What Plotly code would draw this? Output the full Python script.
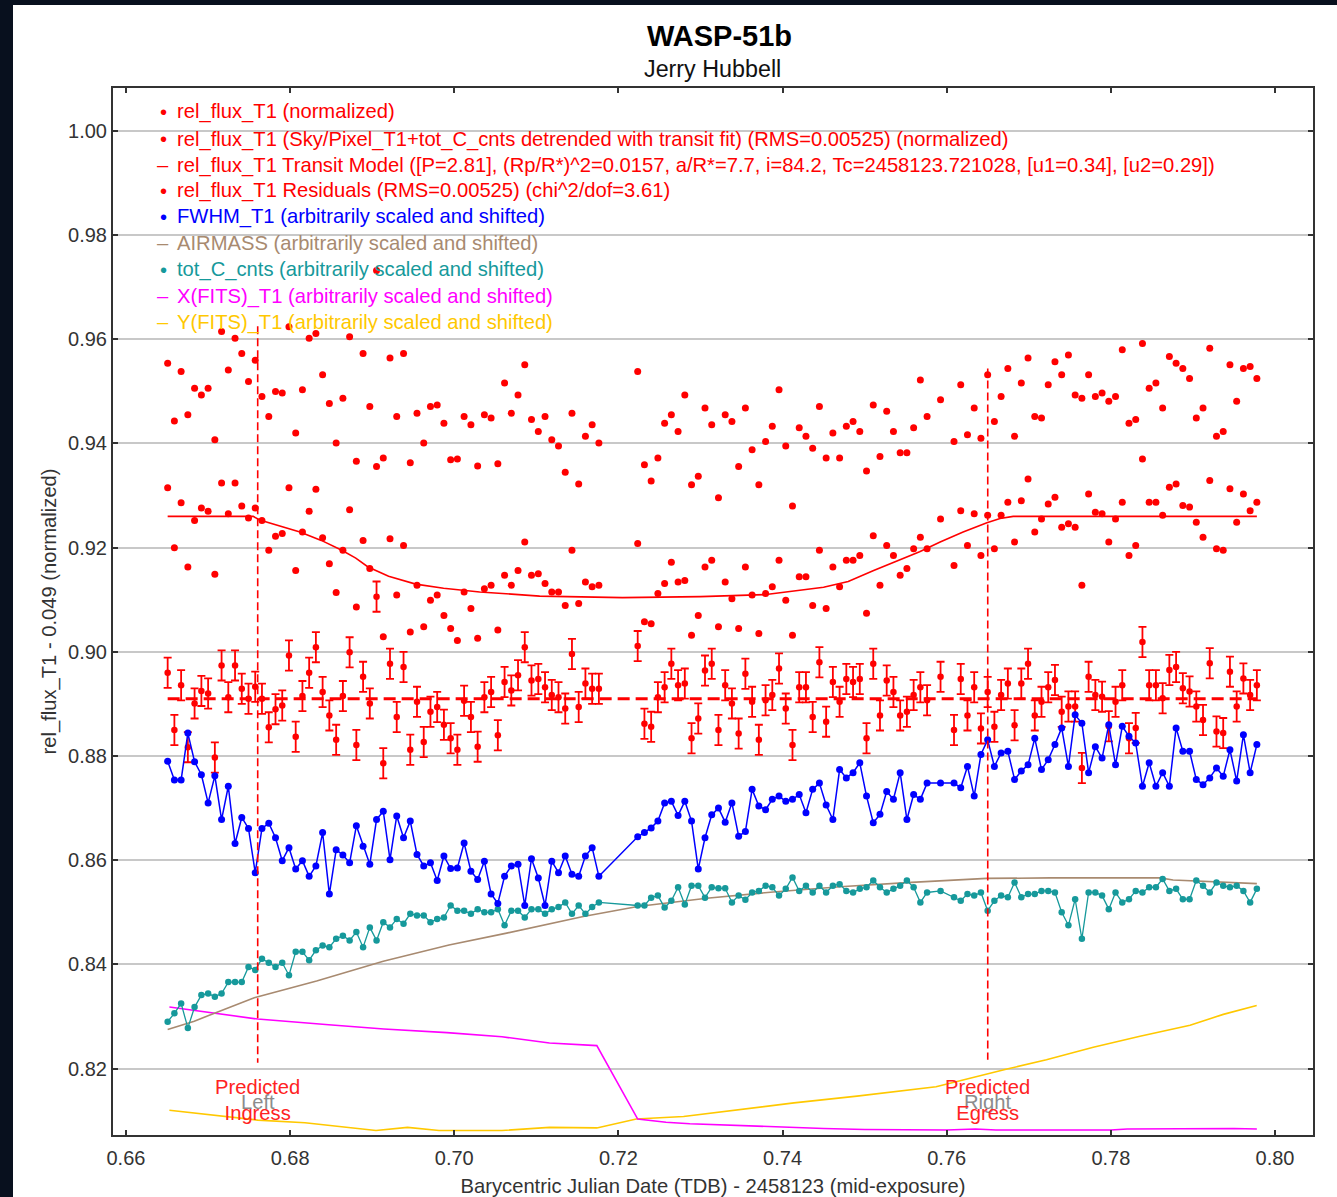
import plotly.graph_objects as go

# ------------------------------------------------------------------
# Data
# ------------------------------------------------------------------
time_seg1 = [0.66508,0.66590,0.66672,0.66754,0.66836,0.66919,0.67001,0.67083,0.67165,0.67247,
             0.67329,0.67411,0.67493,0.67575,0.67657,0.67740,0.67822,0.67904,0.67986,0.68068,
             0.68150,0.68232,0.68314,0.68396,0.68478,0.68561,0.68643,0.68725,0.68807,0.68889,
             0.68971,0.69053,0.69135,0.69217,0.69299,0.69382,0.69464,0.69546,0.69628,0.69710,
             0.69792,0.69874,0.69956,0.70038,0.70120,0.70203,0.70285,0.70367,0.70449,0.70531,
             0.70613,0.70695,0.70777,0.70859,0.70941,0.71024,0.71106,0.71188,0.71270,0.71352,
             0.71434,0.71516,0.71598,0.71680,0.71762]
time_seg2 = [0.72235,0.72317,0.72399,0.72481,0.72563,0.72645,0.72727,0.72809,0.72891,0.72973,
             0.73055,0.73137,0.73219,0.73301,0.73383,0.73465,0.73547,
             0.73629,0.73711,0.73793,0.73875,0.73957,0.74039,0.74121,0.74203,0.74285,0.74367,
             0.74449,0.74531,0.74613,0.74695,0.74777,0.74859,0.74941,0.75023,0.75105,0.75187,
             0.75269,0.75351,0.75433,0.75515,0.75597,0.75679,0.75761,
             0.75925,
             0.76089,0.76171,0.76253,0.76335,0.76417,0.76499,0.76581,0.76663,0.76745,0.76827,
             0.76909,0.76991,0.77073,0.77155,0.77237,
             0.77319,0.77401,0.77483,0.77565,0.77647,0.77729,0.77811,0.77893,0.77975,0.78057,
             0.78139,0.78221,0.78303,0.78385,0.78467,0.78549,0.78631,0.78713,0.78795,0.78877,
             0.78959,0.79041,0.79123,0.79205,0.79287,0.79369,0.79451,0.79533,0.79615,0.79697,
             0.79779]

raw_flux_seg1 = [0.9554,0.9443,0.9538,0.9455,0.9506,0.9493,0.9506,0.9407,0.9615,0.9541,
                 0.9602,0.9573,0.9519,0.9560,0.9490,0.9452,0.9500,0.9497,0.9624,0.9420,
                 0.9503,0.9602,0.9611,0.9532,0.9477,0.9401,0.9487,0.9605,0.9366,0.9573,
                 0.9471,0.9732,0.9372,0.9564,0.9452,0.9573,0.9363,0.9458,0.9401,0.9471,
                 0.9474,0.9439,0.9369,
                 0.9370,0.9452,0.9436,0.9357,0.9455,0.9449,0.9361,0.9516,0.9458,0.9493,
                 0.9551,0.9446,0.9423,0.9452,0.9407,0.9395,0.9345,0.9458,0.9322,0.9414,
                 0.9436,0.9401]
raw_flux_seg2 = [0.9538,0.9359,0.9328,0.9372,0.9439,0.9455,0.9423,0.9493,0.9321,0.9337,
                 0.9468,0.9436,0.9296,0.9455,0.9442,0.9356,0.9468,
                 0.9388,0.9321,0.9404,0.9433,0.9503,0.9395,0.9280,0.9430,0.9414,0.9391,
                 0.9471,0.9372,0.9420,0.9372,0.9433,0.9442,0.9423,0.9347,0.9474,0.9375,
                 0.9462,0.9423,0.9382,0.9382,0.9430,0.9522,0.9452,
                 0.9484,
                 0.9404,0.9513,0.9417,0.9468,0.9410,0.9532,0.9442,0.9490,0.9544,0.9414,
                 0.9516,0.9564,0.9452,0.9449,0.9513,
                 0.9557,0.9532,0.9570,0.9493,0.9487,0.9532,0.9490,0.9497,0.9481,0.9490,
                 0.9580,0.9439,0.9446,0.9592,0.9506,0.9516,0.9468,0.9567,0.9554,0.9544,
                 0.9525,0.9449,0.9468,0.9583,0.9414,0.9423,0.9551,0.9481,0.9544,0.9548,
                 0.9525]

detrended_seg1 = [0.9315,0.9200,0.9286,0.9163,0.9252,0.9276,0.9270,0.9149,0.9324,0.9265,
                  0.9324,0.9280,0.9257,0.9276,0.9252,0.9195,0.9222,0.9227,0.9315,0.9156,
                  0.9230,0.9270,0.9312,0.9219,0.9169,0.9114,0.9195,0.9273,0.9086,0.9214,
                  0.9160,0.9356,0.9029,0.9217,0.9109,0.9204,0.9038,0.9128,0.9048,0.9099,
                  0.9109,0.9070,0.9045,
                  0.9022,0.9115,0.9083,0.9026,0.9121,0.9128,0.9042,0.9147,0.9128,0.9156,
                  0.9211,0.9147,0.9150,0.9131,0.9115,0.9115,0.9089,0.9195,0.9093,0.9134,
                  0.9125,0.9128]
detrended_seg2 = [0.9208,0.9058,0.9054,0.9112,0.9131,0.9172,0.9134,0.9137,0.9032,0.9070,
                  0.9163,0.9176,0.9048,0.9134,0.9102,0.9045,0.9163,
                  0.9109,0.9035,0.9112,0.9125,0.9176,0.9099,0.9032,0.9144,0.9144,0.9089,
                  0.9195,0.9083,0.9163,0.9125,0.9176,0.9176,0.9185,0.9074,0.9223,0.9128,
                  0.9204,0.9185,0.9147,0.9160,0.9198,0.9220,0.9198,
                  0.9255,
                  0.9166,0.9271,0.9204,0.9265,0.9185,0.9262,0.9198,0.9262,0.9287,0.9211,
                  0.9290,0.9332,0.9230,0.9255,0.9284,
                  0.9297,0.9239,0.9246,0.9239,0.9128,0.9303,0.9268,0.9265,0.9211,0.9255,
                  0.9287,0.9185,0.9204,0.9370,0.9287,0.9287,0.9262,0.9316,0.9322,0.9281,
                  0.9278,0.9249,0.9220,0.9329,0.9198,0.9195,0.9313,0.9249,0.9303,0.9271,
                  0.9287]

residual_seg1 = [0.8960,0.8850,0.8936,0.8817,0.8901,0.8925,0.8920,0.8797,0.8974,0.8913,
                 0.8974,0.8929,0.8910,0.8933,0.8910,0.8855,0.8890,0.8897,0.8993,0.8837,
                 0.8915,0.8960,0.9009,0.8923,0.8878,0.8831,0.8915,0.8999,0.8821,0.8952,
                 0.8901,0.9106,0.8786,0.8977,0.8875,0.8971,0.8812,0.8904,0.8827,0.8885,
                 0.8894,0.8860,0.8834,
                 0.8812,0.8906,0.8875,0.8818,0.8913,0.8923,0.8840,0.8942,0.8926,0.8955,
                 0.9009,0.8945,0.8948,0.8932,0.8917,0.8913,0.8891,0.8996,0.8894,0.8939,
                 0.8929,0.8929]
residual_seg2 = [0.9011,0.8862,0.8856,0.8913,0.8932,0.8977,0.8936,0.8939,0.8834,0.8872,
                 0.8964,0.8977,0.8850,0.8936,0.8901,0.8843,0.8958,
                 0.8904,0.8831,0.8907,0.8917,0.8968,0.8891,0.8821,0.8932,0.8932,0.8875,
                 0.8980,0.8866,0.8942,0.8904,0.8948,0.8942,0.8948,0.8834,0.8977,0.8878,
                 0.8945,0.8923,0.8878,0.8885,0.8917,0.8932,0.8907,
                 0.8952,
                 0.8850,0.8948,0.8878,0.8932,0.8853,0.8923,0.8856,0.8917,0.8939,0.8859,
                 0.8939,0.8977,0.8878,0.8904,0.8932,
                 0.8946,0.8885,0.8895,0.8895,0.8777,0.8952,0.8917,0.8914,0.8857,0.8904,
                 0.8936,0.8834,0.8854,0.9019,0.8936,0.8936,0.8911,0.8965,0.8971,0.8930,
                 0.8924,0.8895,0.8869,0.8978,0.8847,0.8844,0.8962,0.8895,0.8949,0.8917,
                 0.8936]
residual_err = 0.0029
residual_baseline = 0.891

fwhm_seg1 = [0.8790,0.8754,0.8754,0.8844,0.8789,0.8764,0.8710,0.8762,0.8678,0.8742,
             0.8632,0.8682,0.8661,0.8576,0.8661,0.8671,0.8643,0.8599,0.8624,0.8583,
             0.8599,0.8569,0.8589,0.8653,0.8535,0.8620,0.8610,0.8595,0.8666,0.8627,
             0.8592,0.8678,0.8694,0.8601,0.8685,0.8643,0.8675,0.8611,0.8589,0.8595,
             0.8561,0.8608,0.8584,
             0.8585,0.8633,0.8579,0.8563,0.8598,0.8535,0.8517,0.8569,0.8589,0.8592,
             0.8513,0.8603,0.8566,0.8513,0.8598,0.8576,0.8608,0.8573,0.8569,0.8608,
             0.8624,0.8569]
fwhm_seg2 = [0.8645,0.8653,0.8662,0.8675,0.8710,0.8713,0.8686,0.8713,0.8675,0.8583,
             0.8643,0.8687,0.8700,0.8673,0.8710,0.8646,0.8655,
             0.8736,0.8704,0.8697,0.8717,0.8723,0.8713,0.8717,0.8726,0.8691,0.8736,
             0.8748,0.8706,0.8678,0.8774,0.8758,0.8768,0.8787,0.8723,0.8672,0.8688,
             0.8732,0.8717,0.8768,0.8678,0.8726,0.8717,0.8748,
             0.8748,
             0.8748,0.8739,0.8780,0.8723,0.8803,0.8831,0.8780,0.8806,0.8809,0.8755,
             0.8771,0.8783,0.8834,0.8774,0.8793,
             0.8822,0.8854,0.8780,0.8879,0.8863,0.8768,0.8818,0.8796,0.8860,0.8783,
             0.8857,0.8838,0.8825,0.8742,0.8787,0.8742,0.8768,0.8742,0.8854,0.8809,
             0.8809,0.8755,0.8745,0.8758,0.8777,0.8761,0.8812,0.8752,0.8841,0.8768,
             0.8822]

totc_seg1 = [0.8290,0.8306,0.8325,0.8278,0.8318,0.8341,0.8344,0.8338,0.8344,0.8366,
             0.8366,0.8366,0.8395,0.8389,0.8411,0.8403,0.8395,0.8403,0.8379,0.8424,
             0.8424,0.8408,0.8427,0.8436,0.8433,0.8449,0.8455,0.8446,0.8462,0.8433,
             0.8471,0.8446,0.8481,0.8471,0.8487,0.8478,0.8497,0.8494,0.8494,0.8481,
             0.8487,0.8490,0.8513,
             0.8503,0.8503,0.8497,0.8506,0.8500,0.8500,0.8506,0.8475,0.8503,0.8503,
             0.8490,0.8506,0.8506,0.8497,0.8506,0.8510,0.8519,0.8497,0.8513,0.8497,
             0.8510,0.8519]
totc_seg2 = [0.8513,0.8513,0.8528,0.8532,0.8509,0.8522,0.8548,0.8515,0.8551,0.8551,
             0.8528,0.8548,0.8546,0.8546,0.8519,0.8532,0.8524,
             0.8538,0.8541,0.8551,0.8548,0.8532,0.8545,0.8567,0.8541,0.8551,0.8538,
             0.8551,0.8538,0.8551,0.8554,0.8541,0.8538,0.8545,0.8548,0.8561,0.8548,
             0.8538,0.8545,0.8551,0.8561,0.8548,0.8519,0.8538,
             0.8541,
             0.8529,0.8522,0.8535,0.8532,0.8538,0.8503,0.8522,0.8532,0.8529,0.8557,
             0.8529,0.8535,0.8535,0.8541,0.8541,
             0.8538,0.8500,0.8475,0.8525,0.8449,0.8538,0.8538,0.8532,0.8506,0.8538,
             0.8519,0.8525,0.8541,0.8538,0.8548,0.8548,0.8564,0.8541,0.8545,0.8525,
             0.8525,0.8561,0.8551,0.8538,0.8557,0.8551,0.8548,0.8551,0.8541,0.8519,
             0.8545]

model_time = [0.66508,0.6755,0.6763,0.6790,0.6812,0.6838,0.6863,0.6880,0.6895,0.6920,
              0.6953,0.6987,0.7031,0.7104,0.7205,0.7300,0.7380,0.7450,0.7480,0.7511,
              0.7540,0.7567,0.7592,0.7620,0.7649,0.7665,0.7681,0.79779]
model_flux = [0.9260,0.9260,0.9253,0.9241,0.9230,0.9214,0.9195,0.9180,0.9163,0.9145,
              0.9130,0.9122,0.9115,0.9107,0.9104,0.9106,0.9110,0.9124,0.9135,0.9156,
              0.9175,0.9192,0.9211,0.9230,0.9248,0.9256,0.9260,0.9260]

airmass_time = [0.66508,0.66832,0.67563,0.68323,0.69135,0.69936,0.70639,0.71572,0.72235,
                0.73075,0.73887,0.74700,0.75512,0.76487,0.77259,0.78599,0.78758,0.79779]
airmass_val = [0.8275,0.8291,0.8336,0.8368,0.8406,0.8437,0.8460,0.8492,0.8511,
               0.8527,0.8539,0.8549,0.8557,0.8565,0.8566,0.8566,0.8562,0.8555]

xfits_time = [0.66529,0.67605,0.68470,0.69142,0.69911,0.70581,0.71160,0.71737,0.72235,
              0.72580,0.72870,0.73400,0.73900,0.74500,0.75000,0.76000,0.76350,0.76600,
              0.78000,0.78200,0.79500,0.79779]
xfits_val = [0.8318,0.8295,0.8284,0.8276,0.8269,0.8261,0.8249,0.8244,0.8103,
             0.8097,0.8094,0.8091,0.8087,0.8085,0.8083,0.8082,0.8084,0.8082,
             0.8082,0.8084,0.8085,0.8084]

yfits_time = [0.66529,0.67125,0.67605,0.68181,0.69046,0.69431,0.69814,0.70581,0.71160,
              0.71737,0.72218,0.72794,0.73372,0.74139,0.74907,0.75870,0.76735,0.77215,
              0.77786,0.78355,0.78965,0.79370,0.79777]
yfits_val = [0.8120,0.8110,0.8101,0.8096,0.8081,0.8087,0.8081,0.8081,0.8087,
             0.8086,0.8103,0.8108,0.8119,0.8134,0.8147,0.8165,0.8199,0.8217,
             0.8241,0.8262,0.8283,0.8304,0.8321]

predicted_times = [0.67605, 0.76500]
predicted_top = [0.9625, 0.9544]
predicted_bottom = [0.8211, 0.8217]
predicted_names = ["Ingress", "Egress"]
predicted_sides = ["Left", "Right"]

x_ticks = [0.66, 0.68, 0.70, 0.72, 0.74, 0.76, 0.78, 0.80]
y_ticks = [0.82, 0.84, 0.86, 0.88, 0.90, 0.92, 0.94, 0.96, 0.98, 1.00]
x_tick_labels = ["0.66", "0.68", "0.70", "0.72", "0.74", "0.76", "0.78", "0.80"]
y_tick_labels = ["0.82", "0.84", "0.86", "0.88", "0.90", "0.92", "0.94", "0.96", "0.98", "1.00"]

legend_labels = [
    "rel_flux_T1 (normalized)",
    "rel_flux_T1 (Sky/Pixel_T1+tot_C_cnts detrended with transit fit) (RMS=0.00525) (normalized)",
    "rel_flux_T1 Transit Model ([P=2.81], (Rp/R*)^2=0.0157, a/R*=7.7, i=84.2, Tc=2458123.721028, [u1=0.34], [u2=0.29])",
    "rel_flux_T1 Residuals (RMS=0.00525) (chi^2/dof=3.61)",
    "FWHM_T1 (arbitrarily scaled and shifted)",
    "AIRMASS (arbitrarily scaled and shifted)",
    "tot_C_cnts (arbitrarily scaled and shifted)",
    "X(FITS)_T1 (arbitrarily scaled and shifted)",
    "Y(FITS)_T1 (arbitrarily scaled and shifted)",
]
legend_symbols = ["\u2022", "\u2022", "\u2013", "\u2022", "\u2022", "\u2013", "\u2022", "\u2013", "\u2013"]

# ------------------------------------------------------------------
# Styling
# ------------------------------------------------------------------
RED = "#ff0000"
BLUE = "#0000ff"
TAN = "#a88a70"
TEAL = "#16999b"
MAGENTA = "#ff00ff"
GOLD = "#ffc800"
legend_colors = [RED, RED, RED, RED, BLUE, TAN, TEAL, MAGENTA, GOLD]

FONT = "Liberation Sans, Arial, sans-serif"
FS = 20.2
W, H = 1337, 1197
ML, MR, MT, MB = 113, 24, 88, 62
PW, PH = W - ML - MR, H - MT - MB


def px2paper_x(px):
    return (px - ML) / PW


def px2paper_y(py):
    return (H - MB - py) / PH


time = time_seg1 + time_seg2
raw_flux = raw_flux_seg1 + raw_flux_seg2
detrended = detrended_seg1 + detrended_seg2
residual = residual_seg1 + residual_seg2
fwhm = fwhm_seg1 + fwhm_seg2
totc = totc_seg1 + totc_seg2

fig = go.Figure()

fig.add_trace(go.Scatter(x=yfits_time, y=yfits_val, mode="lines",
                         line=dict(color=GOLD, width=1.6), name=legend_labels[8]))
fig.add_trace(go.Scatter(x=xfits_time, y=xfits_val, mode="lines",
                         line=dict(color=MAGENTA, width=1.6), name=legend_labels[7]))
fig.add_trace(go.Scatter(x=airmass_time, y=airmass_val, mode="lines",
                         line=dict(color=TAN, width=1.6), name=legend_labels[5]))
fig.add_trace(go.Scatter(x=time, y=totc, mode="lines+markers",
                         line=dict(color=TEAL, width=1.3),
                         marker=dict(color=TEAL, size=6.5), name=legend_labels[6]))
fig.add_trace(go.Scatter(x=[time[0], time[-1]], y=[residual_baseline, residual_baseline],
                         mode="lines", line=dict(color=RED, width=3, dash="12px,6px"),
                         name="residual baseline"))
fig.add_trace(go.Scatter(x=time, y=residual, mode="markers",
                         marker=dict(color=RED, size=6.5),
                         error_y=dict(type="constant", value=residual_err, color=RED,
                                      thickness=1.8, width=4),
                         name=legend_labels[3]))
fig.add_trace(go.Scatter(x=time, y=fwhm, mode="lines+markers",
                         line=dict(color=BLUE, width=1.5),
                         marker=dict(color=BLUE, size=7), name=legend_labels[4]))
fig.add_trace(go.Scatter(x=model_time, y=model_flux, mode="lines",
                         line=dict(color=RED, width=1.6), name=legend_labels[2]))
fig.add_trace(go.Scatter(x=time, y=detrended, mode="markers",
                         marker=dict(color=RED, size=7), name=legend_labels[1]))
fig.add_trace(go.Scatter(x=time, y=raw_flux, mode="markers",
                         marker=dict(color=RED, size=7), name=legend_labels[0]))

for t, top, bot in zip(predicted_times, predicted_top, predicted_bottom):
    fig.add_trace(go.Scatter(x=[t, t], y=[top, bot], mode="lines",
                             line=dict(color=RED, width=1.6, dash="8px,4px"),
                             name="predicted"))

annotations = []
# legend drawn as text rows inside the plot
legend_rows_px = [112, 139, 165, 191, 217, 243, 270, 296, 322]
for lab, sym, col, py in zip(legend_labels, legend_symbols, legend_colors, legend_rows_px):
    annotations.append(dict(xref="paper", yref="paper", x=px2paper_x(163), y=px2paper_y(py),
                            text=sym, showarrow=False, xanchor="center", yanchor="middle",
                            font=dict(family=FONT, size=FS, color=col)))
    annotations.append(dict(xref="paper", yref="paper", x=px2paper_x(175), y=px2paper_y(py),
                            text=lab, showarrow=False, xanchor="left", yanchor="middle",
                            font=dict(family=FONT, size=FS, color=col)))

# predicted ingress/egress labels
for t, name, side in zip(predicted_times, predicted_names, predicted_sides):
    annotations.append(dict(xref="x", yref="paper", x=t, y=px2paper_y(1102),
                            text=side, showarrow=False, xanchor="center", yanchor="middle",
                            font=dict(family=FONT, size=FS, color="#8c8c8c")))
    annotations.append(dict(xref="x", yref="paper", x=t, y=px2paper_y(1099.5),
                            text="Predicted<br>" + name, showarrow=False,
                            xanchor="center", yanchor="middle",
                            font=dict(family=FONT, size=FS, color="#ff2222")))

# title & subtitle
annotations.append(dict(xref="paper", yref="paper", x=px2paper_x(719), y=px2paper_y(36),
                        text="<b>WASP-51b</b>", showarrow=False, xanchor="center",
                        yanchor="middle", font=dict(family=FONT, size=29, color="#000000")))
annotations.append(dict(xref="paper", yref="paper", x=px2paper_x(712), y=px2paper_y(69),
                        text="Jerry Hubbell", showarrow=False, xanchor="center",
                        yanchor="middle", font=dict(family=FONT, size=23.3, color="#111111")))

shapes = [dict(type="rect", xref="paper", yref="paper", layer="below",
               x0=px2paper_x(13), x1=px2paper_x(W + 5), y0=px2paper_y(H + 5), y1=px2paper_y(5),
               fillcolor="#ffffff", line=dict(width=0))]

axis_common = dict(showline=True, linecolor="#333333", linewidth=2, mirror="ticks",
                   ticks="inside", ticklen=5, tickwidth=1.5, tickcolor="#333333",
                   tickfont=dict(family=FONT, size=20, color="#333333"),
                   zeroline=False)

fig.update_layout(
    width=W, height=H,
    margin=dict(l=ML, r=MR, t=MT, b=MB, autoexpand=False),
    paper_bgcolor="#08101e",
    plot_bgcolor="#ffffff",
    showlegend=False,
    annotations=annotations,
    shapes=shapes,
    xaxis=dict(range=[0.65842, 0.80463], tickvals=x_ticks, ticktext=x_tick_labels,
               showgrid=False, ticklabelstandoff=4,
               title=dict(text="Barycentric Julian Date (TDB) - 2458123 (mid-exposure)",
                          font=dict(family=FONT, size=FS, color="#333333"), standoff=12),
               **axis_common),
    yaxis=dict(range=[0.80724, 1.00825], tickvals=y_ticks, ticktext=y_tick_labels,
               showgrid=True, gridcolor="#c8c8c8", gridwidth=1.5,
               title=dict(text="rel_flux_T1 - 0.049 (normalized)",
                          font=dict(family=FONT, size=FS, color="#333333"), standoff=6),
               **axis_common),
)

fig.write_html("out.html", config={"displayModeBar": False},
               post_script="document.body.style.margin='0px';")
